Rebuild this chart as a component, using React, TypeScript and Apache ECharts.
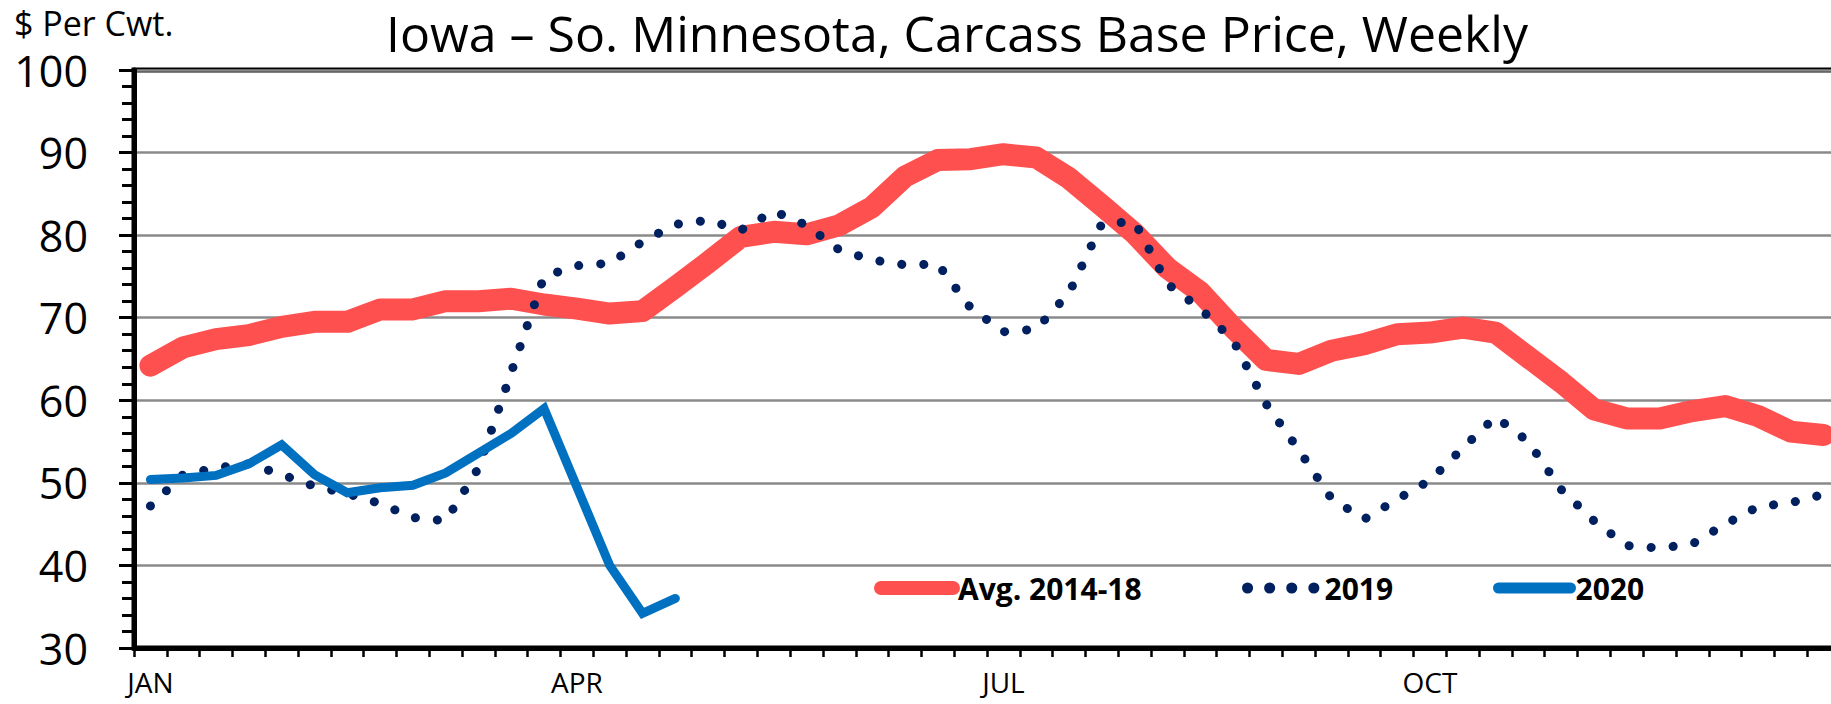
import React, { useEffect, useRef } from 'react';
import * as echarts from 'echarts';

// Categories: 52 weekly slots; month labels shown on the first week of each quarter
const weeks: string[] = Array.from({ length: 52 }, (_, i) => `Week ${i + 1}`);
const monthTickWeeks = [0, 13, 26, 39];
const monthTickLabels = ['JAN', 'APR', 'JUL', 'OCT'];

// Y axis ticks
const yMin = 30;
const yMax = 100;
const yInterval = 10;

// Series values ($ per cwt)
const avg2014_18 = [
  64.2, 66.4, 67.4, 67.9, 68.9, 69.5, 69.5, 71.0, 71.0, 72.0, 72.0, 72.3, 71.6,
  71.1, 70.5, 70.8, 73.7, 76.7, 79.8, 80.4, 80.1, 81.2, 83.4, 87.1, 89.1, 89.2,
  89.8, 89.4, 86.9, 83.6, 80.2, 76.0, 73.1, 68.8, 64.9, 64.4, 66.0, 66.8, 68.0,
  68.2, 68.8, 68.2, 65.2, 62.2, 58.9, 57.8, 57.8, 58.7, 59.3, 58.1, 56.2, 55.8,
];
const y2019 = [
  47.2, 51.0, 51.8, 52.3, 51.0, 49.6, 48.7, 47.5, 45.8, 45.4, 51.8, 63.4, 75.0,
  76.3, 76.6, 79.2, 81.3, 81.8, 80.6, 82.9, 81.2, 78.2, 77.0, 76.4, 76.5, 71.2,
  68.3, 68.6, 73.0, 81.4, 81.6, 74.1, 71.1, 67.3, 59.6, 54.0, 48.1, 45.6, 48.0,
  50.3, 54.2, 58.0, 55.0, 49.2, 45.4, 42.4, 42.1, 42.6, 45.0, 47.1, 47.6, 48.6,
];
const y2020 = [
  50.4, 50.6, 50.9, 52.3, 54.6, 51.0, 48.8, 49.4, 49.7, 51.2, 53.6, 56.0, 59.0,
  49.5, 40.0, 34.2, 36.0,
];

const seriesNames = ['Avg. 2014-18', '2019', '2020'];

export default function App() {
  const ref = useRef<HTMLDivElement>(null);

  useEffect(() => {
    if (!ref.current) return;
    const chart = echarts.init(ref.current, null, { renderer: 'svg' });
    const font = "'Open Sans', sans-serif";
    const legendText = { fontFamily: font, fontSize: 30, fontWeight: 'bold', color: '#000' };
    const legendCommon = {
      top: 573,
      padding: 0,
      itemWidth: 72,
      itemHeight: 14,
      selectedMode: false,
      itemStyle: { opacity: 0 },
      textStyle: legendText,
    };

    chart.setOption({
      animation: false,
      backgroundColor: '#ffffff',
      title: [
        {
          text: 'Iowa – So. Minnesota, Carcass Base Price, Weekly',
          left: 386,
          top: 3,
          padding: 0,
          textStyle: { fontFamily: font, fontSize: 50, lineHeight: 60, fontWeight: 'normal', color: '#000' },
        },
        {
          text: '$ Per Cwt.',
          left: 14,
          top: 6,
          padding: 0,
          textStyle: { fontFamily: font, fontSize: 34, fontWeight: 'normal', color: '#000' },
        },
      ],
      legend: [
        { ...legendCommon, data: [seriesNames[0]], left: 874, lineStyle: { width: 14, cap: 'round' } },
        { ...legendCommon, data: [seriesNames[1]], left: 1242, lineStyle: { width: 11, type: [0.1, 22], cap: 'round' } },
        { ...legendCommon, data: [seriesNames[2]], left: 1493, lineStyle: { width: 11, cap: 'round' } },
      ],
      grid: {
        left: 134,
        top: 70,
        width: 1706,
        height: 578,
        outerBoundsMode: 'none',
        containLabel: false,
        show: true,
        borderColor: '#000',
        borderWidth: 5,
        backgroundColor: 'transparent',
      },
      xAxis: {
        type: 'category',
        data: weeks,
        boundaryGap: true,
        axisLine: { show: true, lineStyle: { color: '#000', width: 5 } },
        axisTick: { show: true, interval: 0, length: 9, lineStyle: { color: '#000', width: 2.5 } },
        axisLabel: {
          interval: 0,
          margin: 22,
          lineHeight: 24,
          fontFamily: font,
          fontSize: 28,
          color: '#000',
          formatter: (_v: string, idx: number) => {
            const k = monthTickWeeks.indexOf(idx);
            return k >= 0 ? monthTickLabels[k] : '';
          },
        },
        splitLine: { show: false },
      },
      yAxis: {
        type: 'value',
        min: yMin,
        max: yMax,
        interval: yInterval,
        axisLine: { show: true, lineStyle: { color: '#000', width: 5 } },
        axisTick: { show: true, length: 15, lineStyle: { color: '#000', width: 3 } },
        minorTick: { show: true, splitNumber: 5, length: 12, lineStyle: { color: '#000', width: 3 } },
        axisLabel: { margin: 46, fontFamily: font, fontSize: 43, color: '#000' },
        splitLine: { show: true, lineStyle: { color: '#8a8a8a', width: 2.5 } },
      },
      series: [
        {
          name: seriesNames[0],
          type: 'line',
          data: avg2014_18,
          symbol: 'none',
          showSymbol: false,
          color: '#FF5050',
          lineStyle: { color: '#FF5050', width: 22, cap: 'round', join: 'round' },
        },
        {
          name: seriesNames[1],
          type: 'line',
          data: y2019,
          symbol: 'none',
          showSymbol: false,
          color: '#002060',
          lineStyle: { color: '#002060', width: 9, type: [0.1, 22], cap: 'round', join: 'round' },
        },
        {
          name: seriesNames[2],
          type: 'line',
          data: y2020,
          symbol: 'none',
          showSymbol: false,
          color: '#0070C0',
          lineStyle: { color: '#0070C0', width: 9, cap: 'round', join: 'miter' },
        },
      ],
    });

    return () => chart.dispose();
  }, []);

  return (
    <div
      ref={ref}
      style={{ position: 'fixed', left: 0, top: 0, width: 1831, height: 704, background: '#fff' }}
    />
  );
}
